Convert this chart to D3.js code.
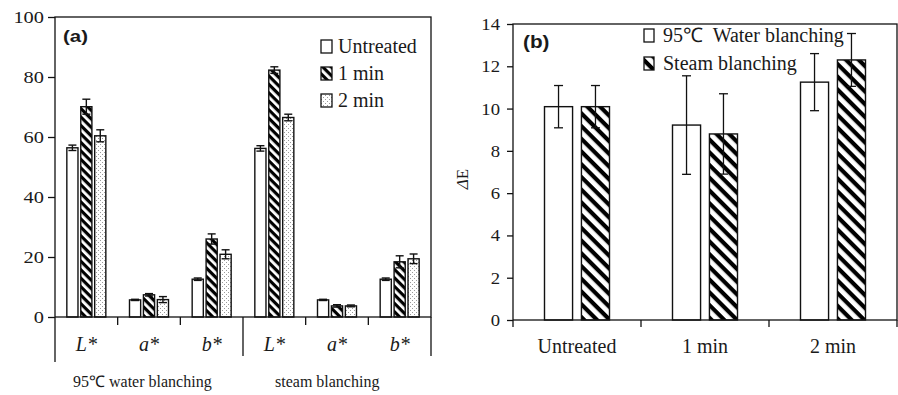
<!DOCTYPE html>
<html>
<head>
<meta charset="utf-8">
<script src="https://cdn.jsdelivr.net/npm/d3@7"></script>
<style>
  html, body { margin: 0; padding: 0; background: #fff; }
  svg { display: block; }
</style>
</head>
<body>
<svg id="chart" width="898" height="395"></svg>
<script>
// ---- Panel (a): CIE L*a*b* colour values ----
const colourParams = ["L*", "a*", "b*"];
const blanchMethods = ["95℃ water blanching", "steam blanching"];
const seriesNamesA = ["Untreated", "1 min", "2 min"];
// values ordered: water L*, a*, b*, steam L*, a*, b*
const untreatedVals = [56.4, 5.7, 12.6, 56.2, 5.7, 12.6];
const untreatedErr  = [0.9, 0.2, 0.4, 0.9, 0.2, 0.4];
const min1Vals = [70.1, 7.4, 26.0, 82.3, 3.7, 18.4];
const min1Err  = [2.5, 0.4, 1.7, 1.1, 0.4, 2.0];
const min2Vals = [60.4, 5.8, 20.9, 66.5, 3.7, 19.4];
const min2Err  = [2.0, 1.0, 1.5, 1.1, 0.3, 1.6];
const yTicksA = [0, 20, 40, 60, 80, 100];

// ---- Panel (b): total colour difference ΔE ----
const deCategories = ["Untreated", "1 min", "2 min"];
const seriesNamesB = ["95℃  Water blanching", "Steam blanching"];
const waterDE  = [10.09, 9.22, 11.25];
const waterErr = [1.0, 2.33, 1.35];
const steamDE  = [10.09, 8.8, 12.3];
const steamErr = [1.0, 1.9, 1.25];
const yTicksB = [0, 2, 4, 6, 8, 10, 12, 14];

const SERIF = "Liberation Serif";
const SANS = "Liberation Sans";
const INK = "#111";
const TXT = "#1a1a1a";

const svg = d3.select("#chart").attr("font-family", SERIF);
const defs = svg.append("defs");

function hatch(id, period, thick) {
  const p = defs.append("pattern").attr("id", id)
    .attr("patternUnits", "userSpaceOnUse")
    .attr("width", period).attr("height", period)
    .attr("patternTransform", "rotate(45)");
  p.append("rect").attr("width", period).attr("height", period).attr("fill", "#fff");
  p.append("rect").attr("width", period).attr("height", thick).attr("fill", "#000");
}
hatch("hatchA", 6, 3.2);
hatch("hatchB", 9, 4.2);

const dots = defs.append("pattern").attr("id", "dots")
  .attr("patternUnits", "userSpaceOnUse").attr("width", 4).attr("height", 4);
dots.append("rect").attr("width", 4).attr("height", 4).attr("fill", "#fff");
dots.append("rect").attr("x", 0).attr("y", 0).attr("width", 1).attr("height", 1).attr("fill", "#9a9a9a");
dots.append("rect").attr("x", 2).attr("y", 2).attr("width", 1).attr("height", 1).attr("fill", "#9a9a9a");

// widen glyphs horizontally while keeping their anchor point
function stretchText(sel, sx) {
  sel.each(function () {
    const t = d3.select(this);
    const x = +t.attr("x") || 0, y = +t.attr("y") || 0;
    t.attr("x", 0).attr("y", 0).attr("transform", `translate(${x},${y}) scale(${sx},1)`);
  });
}
function serif(sel, size) {
  return sel.attr("font-family", SERIF).attr("font-size", size).attr("fill", TXT);
}

/* ================= Panel (a) ================= */
const A = { left: 55, right: 431, top: 17, bottom: 317 };
const gA = svg.append("g");
const yA = d3.scaleLinear().domain([0, 100]).range([A.bottom, A.top]);
const xA = d3.scaleBand().domain(d3.range(6)).range([A.left, A.right]);
const subA = d3.scaleBand().domain(seriesNamesA).range([-19.5, 19.5]).paddingInner(0.2);

const seriesA = [
  { name: "Untreated", vals: untreatedVals, errs: untreatedErr, fill: "#fff" },
  { name: "1 min", vals: min1Vals, errs: min1Err, fill: "url(#hatchA)" },
  { name: "2 min", vals: min2Vals, errs: min2Err, fill: "url(#dots)" }
];

const barDataA = [];
seriesA.forEach(s => s.vals.forEach((v, i) => barDataA.push({ s, i, v, e: s.errs[i] })));
const bxA = d => xA(d.i) + xA.bandwidth() / 2 + subA(d.s.name);

gA.selectAll("rect.bar").data(barDataA).join("rect").attr("class", "bar")
  .attr("x", bxA).attr("y", d => yA(d.v))
  .attr("width", subA.bandwidth()).attr("height", d => yA(0) - yA(d.v))
  .attr("fill", d => d.s.fill).attr("stroke", INK).attr("stroke-width", 1.4);

const errA = gA.selectAll("g.err").data(barDataA).join("g").attr("class", "err")
  .attr("stroke", INK).attr("stroke-width", 1.4);
errA.append("line")
  .attr("x1", d => bxA(d) + subA.bandwidth() / 2).attr("x2", d => bxA(d) + subA.bandwidth() / 2)
  .attr("y1", d => yA(d.v - d.e)).attr("y2", d => yA(d.v + d.e));
[d => d.v + d.e, d => d.v - d.e].forEach(f => {
  errA.append("line")
    .attr("x1", d => bxA(d) + subA.bandwidth() / 2 - 4).attr("x2", d => bxA(d) + subA.bandwidth() / 2 + 4)
    .attr("y1", d => yA(f(d))).attr("y2", d => yA(f(d)));
});

// frame
gA.append("rect").attr("x", A.left).attr("y", A.top)
  .attr("width", A.right - A.left).attr("height", A.bottom - A.top)
  .attr("fill", "none").attr("stroke", INK).attr("stroke-width", 1.3);

// y axis
const axA = gA.append("g").attr("transform", `translate(${A.left},0)`)
  .call(d3.axisLeft(yA).tickValues(yTicksA).tickSize(7).tickSizeOuter(0).tickPadding(4))
  .attr("font-family", SERIF);
axA.select(".domain").remove();
axA.selectAll(".tick line").attr("stroke", INK).attr("stroke-width", 1.3);
serif(axA.selectAll(".tick text"), 17);
stretchText(axA.selectAll(".tick text"), 1.2);

// category dividers below the axis
d3.range(7).forEach(i => {
  const x = i < 6 ? xA(i) : A.right;
  const long = i === 0 || i === 3 || i === 6;
  gA.append("line").attr("x1", x).attr("x2", x)
    .attr("y1", A.bottom).attr("y2", long ? (i === 0 ? 362 : 356) : A.bottom + 8)
    .attr("stroke", INK).attr("stroke-width", 1.3);
});

// L*, a*, b* labels
serif(gA.selectAll("text.param").data(d3.range(6)).join("text").attr("class", "param"), 20)
  .attr("x", i => xA(i) + xA.bandwidth() / 2).attr("y", 351)
  .attr("text-anchor", "middle").attr("font-style", "italic")
  .text(i => colourParams[i % 3]);

// blanching method labels
serif(gA.selectAll("text.method").data(blanchMethods).join("text").attr("class", "method"), 16)
  .attr("x", (d, k) => xA(k * 3) + (k === 0 ? 18 : 32)).attr("y", 387)
  .text(d => d);

// panel tag
const tagA = gA.append("text").attr("x", 63).attr("y", 42)
  .attr("font-family", SANS).attr("font-weight", "bold").attr("fill", TXT)
  .attr("font-size", 17).text("(a)");
stretchText(tagA, 1.2);

// legend
const legA = gA.selectAll("g.leg").data(seriesA).join("g").attr("class", "leg")
  .attr("transform", (d, k) => `translate(321,${53 + k * 27})`);
legA.append("rect").attr("x", 0).attr("y", -13).attr("width", 11).attr("height", 13)
  .attr("fill", d => d.fill).attr("stroke", INK).attr("stroke-width", 1.3);
serif(legA.append("text"), 20).attr("x", 17).attr("y", 0).text(d => d.name);

/* ================= Panel (b) ================= */
const B = { left: 513, right: 897, top: 24, bottom: 320 };
const gB = svg.append("g");
const yB = d3.scaleLinear().domain([0, 14]).range([B.bottom, B.top]);
const xB = d3.scaleBand().domain(deCategories).range([B.left, B.right]);
const subB = d3.scaleBand().domain(seriesNamesB).range([-32.5, 32.5]).paddingInner(0.24);

const seriesB = [
  { name: seriesNamesB[0], vals: waterDE, errs: waterErr, fill: "#fff" },
  { name: seriesNamesB[1], vals: steamDE, errs: steamErr, fill: "url(#hatchB)" }
];
const barDataB = [];
seriesB.forEach(s => s.vals.forEach((v, i) => barDataB.push({ s, c: deCategories[i], v, e: s.errs[i] })));
const bxB = d => xB(d.c) + xB.bandwidth() / 2 + subB(d.s.name);

gB.selectAll("rect.bar").data(barDataB).join("rect").attr("class", "bar")
  .attr("x", bxB).attr("y", d => yB(d.v))
  .attr("width", subB.bandwidth()).attr("height", d => yB(0) - yB(d.v))
  .attr("fill", d => d.s.fill).attr("stroke", INK).attr("stroke-width", 1.4);

const errB = gB.selectAll("g.err").data(barDataB).join("g").attr("class", "err")
  .attr("stroke", INK).attr("stroke-width", 1.3);
errB.append("line")
  .attr("x1", d => bxB(d) + subB.bandwidth() / 2).attr("x2", d => bxB(d) + subB.bandwidth() / 2)
  .attr("y1", d => yB(d.v - d.e)).attr("y2", d => yB(d.v + d.e));
[d => d.v + d.e, d => d.v - d.e].forEach(f => {
  errB.append("line")
    .attr("x1", d => bxB(d) + subB.bandwidth() / 2 - 4.5).attr("x2", d => bxB(d) + subB.bandwidth() / 2 + 4.5)
    .attr("y1", d => yB(f(d))).attr("y2", d => yB(f(d)));
});

gB.append("rect").attr("x", B.left).attr("y", B.top)
  .attr("width", B.right - B.left).attr("height", B.bottom - B.top)
  .attr("fill", "none").attr("stroke", INK).attr("stroke-width", 1.3);

const axB = gB.append("g").attr("transform", `translate(${B.left},0)`)
  .call(d3.axisLeft(yB).tickValues(yTicksB).tickSize(6).tickSizeOuter(0).tickPadding(7))
  .attr("font-family", SERIF);
axB.select(".domain").remove();
axB.selectAll(".tick line").attr("stroke", INK).attr("stroke-width", 1.3);
serif(axB.selectAll(".tick text"), 17);
stretchText(axB.selectAll(".tick text"), 1.1);

// x ticks at category boundaries
deCategories.concat(["end"]).forEach(c => {
  const x = c === "end" ? B.right : xB(c);
  gB.append("line").attr("x1", x).attr("x2", x).attr("y1", B.bottom).attr("y2", B.bottom + 7)
    .attr("stroke", INK).attr("stroke-width", 1.3);
});
serif(gB.selectAll("text.cat").data(deCategories).join("text").attr("class", "cat"), 20)
  .attr("x", c => xB(c) + xB.bandwidth() / 2).attr("y", 353)
  .attr("text-anchor", "middle").text(c => c);

// y label
const yl = serif(gB.append("text"), 17).attr("transform", "translate(468,179) rotate(-90)")
  .attr("text-anchor", "middle");
yl.append("tspan").attr("font-style", "italic").text("Δ");
yl.append("tspan").text("E");

const tagB = gB.append("text").attr("x", 523).attr("y", 48)
  .attr("font-family", SANS).attr("font-weight", "bold").attr("fill", TXT)
  .attr("font-size", 18).text("(b)");
stretchText(tagB, 1.15);

const legB = gB.selectAll("g.leg").data(seriesB).join("g").attr("class", "leg")
  .attr("transform", (d, k) => `translate(644,${42 + k * 28})`);
legB.append("rect").attr("x", 0).attr("y", -13).attr("width", 10).attr("height", 13)
  .attr("fill", d => d.fill).attr("stroke", INK).attr("stroke-width", 1.3);
serif(legB.append("text"), 20).attr("x", 19).attr("y", 0)
  .attr("xml:space", "preserve").style("white-space", "pre").text(d => d.name);
</script>
</body>
</html>
